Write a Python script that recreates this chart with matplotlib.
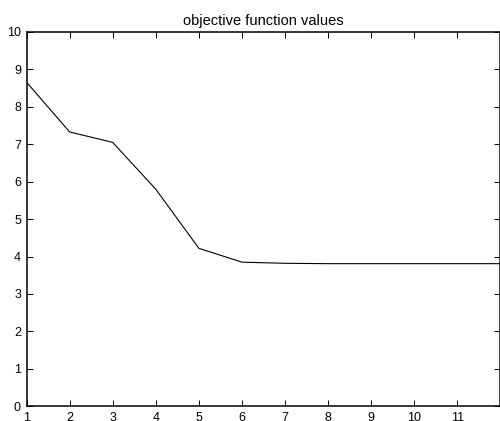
import matplotlib
matplotlib.use("Agg")
import matplotlib.pyplot as plt

plt.rcParams['font.family'] = ['Liberation Sans', 'DejaVu Sans']

iterations = [1, 2, 3, 4, 5, 6, 7, 8, 9, 10, 11, 12]
objective = [8.66, 7.33, 7.05, 5.80, 4.22, 3.85, 3.82, 3.81, 3.81, 3.81, 3.81, 3.81]

fig = plt.figure(figsize=(5, 4.21), dpi=100)
ax = fig.add_axes([0.053, 0.035, 0.948, 0.889])
ax.plot(iterations, objective, color="black", linewidth=0.8)
ax.set_xlim(1, 12)
ax.set_ylim(0, 10)
ax.set_xticks(range(1, 12))
ax.set_yticks(range(0, 11))
ax.tick_params(direction="in", length=4, width=0.7, labelsize=9, pad=4,
               top=True, right=True)
for s in ax.spines.values():
    s.set_linewidth(1.1)
ax.set_title("objective function values", fontsize=10.5, pad=5)
fig.savefig("out.png", dpi=100)
